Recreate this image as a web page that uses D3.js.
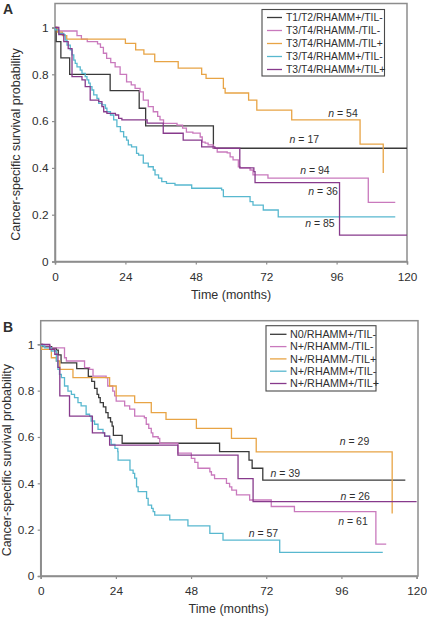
<!DOCTYPE html>
<html><head><meta charset="utf-8">
<script src="https://cdn.jsdelivr.net/npm/d3@7"></script>
<style>
body{margin:0;background:#fff;}
svg text{font-family:"Liberation Sans",Arial,Helvetica,sans-serif;fill:#2f2f2f;}
</style>
</head><body>
<svg id="chart" width="427" height="618"></svg>
<script>
// ---------- data ----------
const timeTicks = [0, 24, 48, 72, 96, 120];
const survTicks = [0, 0.2, 0.4, 0.6, 0.8, 1];
const survTickLabels = ["0", "0.2", "0.4", "0.6", "0.8", "1"];
const xTitle = "Time (months)";
const yTitle = "Cancer-specific survival probability";
const panelLabels = ["A", "B"];

const namesA = ["T1/T2/RHAMM+/TIL-", "T3/T4/RHAMM-/TIL-", "T3/T4/RHAMM-/TIL+", "T3/T4/RHAMM+/TIL-", "T3/T4/RHAMM+/TIL+"];
const namesB = ["N0/RHAMM+/TIL-", "N+/RHAMM-/TIL-", "N+/RHAMM-/TIL+", "N+/RHAMM+/TIL-", "N+/RHAMM+/TIL+"];
const seriesColors = ["#3a3a3a", "#c979bd", "#e8a445", "#58b8cf", "#873a8c"];

// Kaplan-Meier steps: [time (months), survival]; last point = end of follow-up
const A_T12_Rpos_Tneg = [[0,1],[0.4,0.94],[2,0.87],[5,0.80],[18.8,0.73],[28.7,0.655],[30.9,0.58],[54,0.484],[120,0.484]];
const A_T34_Rneg_Tneg = [[0,1],[1,0.985],[7.5,0.965],[9,0.95],[11,0.94],[14.5,0.93],[15.5,0.915],[16.5,0.89],[17.6,0.868],[19,0.85],[20.5,0.832],[22.2,0.80],[24.4,0.768],[26,0.755],[27.3,0.74],[29,0.725],[30.1,0.69],[31.8,0.662],[33.5,0.64],[35,0.62],[35.8,0.605],[37,0.59],[41.6,0.583],[43.5,0.57],[44.8,0.553],[47,0.549],[49.5,0.532],[50.2,0.51],[51.2,0.506],[52.2,0.498],[53.9,0.485],[55.3,0.468],[58.7,0.464],[59.7,0.447],[60.7,0.434],[62.5,0.404],[63.1,0.40],[66.5,0.391],[67.5,0.37],[72.6,0.356],[106.8,0.253],[116,0.253]];
const A_T34_Rneg_Tpos = [[0,1],[0.8,0.98],[2.5,0.965],[4,0.95],[24,0.932],[27.5,0.904],[30.3,0.886],[34,0.854],[42,0.826],[50,0.80],[51.5,0.783],[57.4,0.74],[58,0.72],[66,0.69],[68.8,0.647],[80.7,0.605],[104,0.502],[111.9,0.378]];
const A_T34_Rpos_Tneg = [[0,1],[0.1,0.99],[1.3,0.975],[3,0.968],[3.5,0.946],[4.1,0.925],[5.2,0.904],[5.8,0.883],[6.4,0.861],[6.9,0.847],[7.5,0.832],[8.6,0.818],[9.2,0.804],[10.3,0.79],[10.9,0.776],[11.5,0.762],[12,0.747],[12.6,0.733],[13.2,0.712],[14.3,0.697],[14.9,0.676],[16,0.669],[17.2,0.655],[17.7,0.64],[18.9,0.626],[20,0.605],[21.1,0.576],[22.3,0.555],[23.4,0.533],[24.4,0.519],[25,0.498],[26.1,0.49],[27.8,0.462],[28.5,0.455],[30.1,0.42],[31.8,0.405],[33.5,0.391],[34.1,0.37],[35.3,0.356],[36.4,0.341],[38,0.334],[40.9,0.327],[46.6,0.313],[56.8,0.306],[57.4,0.277],[66.5,0.256],[67.5,0.241],[71,0.22],[76.1,0.191],[116,0.191]];
const A_T34_Rpos_Tpos = [[0,1],[1.3,0.97],[3,0.94],[4.5,0.91],[5.8,0.79],[9.2,0.776],[10.3,0.747],[12,0.69],[14.9,0.683],[16,0.662],[16.6,0.64],[17.7,0.633],[20.6,0.626],[21.7,0.612],[22.8,0.605],[31.4,0.591],[36.9,0.548],[43.7,0.519],[50,0.49],[54.5,0.484],[63,0.40],[67.8,0.384],[68.2,0.337],[97,0.113],[120,0.113]];

const B_N0_Rpos_Tneg = [[0,1],[0.5,0.99],[3.5,0.983],[5,0.975],[5.6,0.954],[6.5,0.92],[11.5,0.895],[15.2,0.862],[16.3,0.84],[17.2,0.81],[18,0.784],[18.5,0.77],[19,0.748],[20,0.73],[20.8,0.705],[21.5,0.683],[22.3,0.665],[22.8,0.647],[23.2,0.607],[26,0.573],[57.1,0.537],[66.5,0.50],[67.5,0.465],[70.9,0.414],[116.4,0.414]];
const B_Np_Rneg_Tneg = [[0,1],[1,0.993],[3,0.985],[7.6,0.942],[8.2,0.928],[14,0.899],[15.6,0.892],[16.7,0.863],[20.9,0.856],[21.4,0.82],[23,0.798],[23.6,0.777],[24.1,0.755],[26.8,0.734],[28.4,0.72],[30,0.69],[33.1,0.683],[33.7,0.655],[34.5,0.637],[35.3,0.618],[35.8,0.601],[37.5,0.594],[38,0.573],[43.8,0.53],[48.1,0.508],[49.2,0.49],[50.2,0.465],[54,0.45],[54.5,0.436],[55.5,0.42],[59.3,0.40],[60.3,0.385],[61,0.371],[62.5,0.35],[66.7,0.328],[73.6,0.30],[81,0.278],[107,0.138],[110.3,0.138]];
const B_Np_Rneg_Tpos = [[0,1],[0.3,0.978],[3.4,0.942],[5,0.928],[6.1,0.892],[10.3,0.856],[22,0.82],[24.1,0.777],[30,0.748],[35.3,0.705],[40,0.676],[49.7,0.637],[60.9,0.594],[68.8,0.536],[112.2,0.27]];
const B_Np_Rpos_Tneg = [[0,1],[0.3,0.993],[1.3,0.985],[3.4,0.971],[5,0.928],[5.5,0.892],[6,0.87],[6.6,0.856],[7.6,0.82],[8.7,0.798],[9.8,0.784],[10.8,0.77],[11.9,0.748],[12.9,0.734],[14.5,0.698],[15.6,0.69],[16.1,0.669],[17.2,0.655],[18.3,0.633],[19.9,0.618],[20.4,0.604],[22,0.59],[22.5,0.568],[23.7,0.551],[24.6,0.537],[24.7,0.50],[28.5,0.457],[29.5,0.443],[30,0.422],[30.6,0.385],[31.1,0.364],[33.8,0.335],[34.3,0.306],[35.4,0.292],[35.9,0.278],[36.4,0.263],[41.2,0.242],[47,0.216],[54,0.184],[58.2,0.155],[76.3,0.102],[109.2,0.102]];
const B_Np_Rpos_Tpos = [[0,1],[2.9,0.978],[4.5,0.957],[5.5,0.9],[6.1,0.777],[9.2,0.69],[16.5,0.618],[20.4,0.604],[22,0.565],[43.8,0.522],[63,0.42],[67.8,0.321],[120,0.321]];

// n labels: [n, time, survival] anchor (centre, baseline)
const nLabelsA = [["54",98.2,0.617],["17",85.0,0.505],["94",88.6,0.376],["36",91.4,0.283],["85",90.3,0.149]];
const nLabelsB = [["29",100.2,0.565],["39",78.1,0.429],["26",100.4,0.326],["61",99.7,0.220],["57",71.1,0.170]];

// ---------- layout ----------
const panels = [
  { label: panelLabels[0], labelXY: [3, 13.5], x0: 55, x1: 407, yZero: 261.5, yOne: 27.5, top: 3.5, right: 407,
    series: [A_T12_Rpos_Tneg, A_T34_Rneg_Tneg, A_T34_Rneg_Tpos, A_T34_Rpos_Tneg, A_T34_Rpos_Tpos],
    names: namesA, nLabels: nLabelsA,
    legend: { x: 262, y: 9.5, w: 122.5, h: 66.5, row0: 17.5, dy: 13, l0: 267, l1: 282, tx: 286, fs: 10.4 },
    yTitleX: 20, xTitleY: 298.5 },
  { label: panelLabels[1], labelXY: [3, 331.5], x0: 40.7, x1: 416.6, yZero: 576, yOne: 344.3, top: 320.7, right: 418,
    series: [B_N0_Rpos_Tneg, B_Np_Rneg_Tneg, B_Np_Rneg_Tpos, B_Np_Rpos_Tneg, B_Np_Rpos_Tpos],
    names: namesB, nLabels: nLabelsB,
    legend: { x: 266, y: 325.7, w: 110, h: 65.3, row0: 334.3, dy: 12.3, l0: 270, l1: 286.5, tx: 290, fs: 10.8 },
    yTitleX: 10.5, xTitleY: 613 }
];

const svg = d3.select("#chart");
const frameColor = "#8d8d8d";

panels.forEach(p => {
  const x = d3.scaleLinear().domain([0, 120]).range([p.x0, p.x1]);
  const y = d3.scaleLinear().domain([0, 1]).range([p.yZero, p.yOne]);
  const g = svg.append("g");

  // frame
  g.append("rect").attr("x", p.x0).attr("y", p.top)
    .attr("width", p.right - p.x0).attr("height", p.yZero - p.top)
    .attr("fill", "none").attr("stroke", frameColor).attr("stroke-width", 1.5);

  // axes
  const xAxis = g.append("g").attr("transform", `translate(0,${p.yZero})`)
    .call(d3.axisBottom(x).tickValues(timeTicks).tickFormat(d3.format("d")).tickSize(3).tickPadding(8));
  const yAxis = g.append("g").attr("transform", `translate(${p.x0},0)`)
    .call(d3.axisLeft(y).tickValues(survTicks).tickFormat((d, i) => survTickLabels[i]).tickSize(3).tickPadding(3.5));
  [xAxis, yAxis].forEach(a => {
    a.select(".domain").attr("stroke", frameColor).attr("stroke-width", 1.5);
    a.selectAll(".tick line").attr("stroke", frameColor).attr("stroke-width", 1.2);
    a.selectAll(".tick text").attr("font-size", 11.8).attr("fill", "#333")
      .style("font-family", '"Liberation Sans",Arial,sans-serif');
  });

  // curves
  const line = d3.line().x(d => x(d[0])).y(d => y(d[1])).curve(d3.curveStepAfter);
  p.series.forEach((s, i) => {
    g.append("path").datum(s).attr("d", line)
      .attr("fill", "none").attr("stroke", seriesColors[i]).attr("stroke-width", 1.3);
  });

  // n labels
  p.nLabels.forEach(([n, t, sv]) => {
    const tx = g.append("text").attr("x", x(t)).attr("y", y(sv))
      .attr("text-anchor", "middle").attr("font-size", 10.5).attr("fill", "#333");
    tx.append("tspan").attr("font-style", "italic").text("n");
    tx.append("tspan").text(" = " + n);
  });

  // legend
  const L = p.legend;
  g.append("rect").attr("x", L.x).attr("y", L.y).attr("width", L.w).attr("height", L.h)
    .attr("fill", "#fff").attr("stroke", "#4a4a4a").attr("stroke-width", 1.1);
  p.names.forEach((nm, i) => {
    const ry = L.row0 + i * L.dy;
    g.append("line").attr("x1", L.l0).attr("x2", L.l1).attr("y1", ry).attr("y2", ry)
      .attr("stroke", seriesColors[i]).attr("stroke-width", 1.3);
    g.append("text").attr("x", L.tx).attr("y", ry).attr("dy", "0.36em")
      .attr("font-size", L.fs).attr("fill", "#333").text(nm);
  });

  // titles
  g.append("text").attr("x", (p.x0 + p.x1) / 2).attr("y", p.xTitleY)
    .attr("text-anchor", "middle").attr("font-size", 12.5).attr("fill", "#333").text(xTitle);
  g.append("text").attr("transform", `translate(${p.yTitleX},${(p.yZero + p.yOne) / 2}) rotate(-90)`)
    .attr("text-anchor", "middle").attr("font-size", 12.5).attr("fill", "#333").text(yTitle);
  g.append("text").attr("x", p.labelXY[0]).attr("y", p.labelXY[1])
    .attr("font-size", 14).attr("font-weight", "bold").attr("fill", "#222").text(p.label);
});
</script>
</body></html>
